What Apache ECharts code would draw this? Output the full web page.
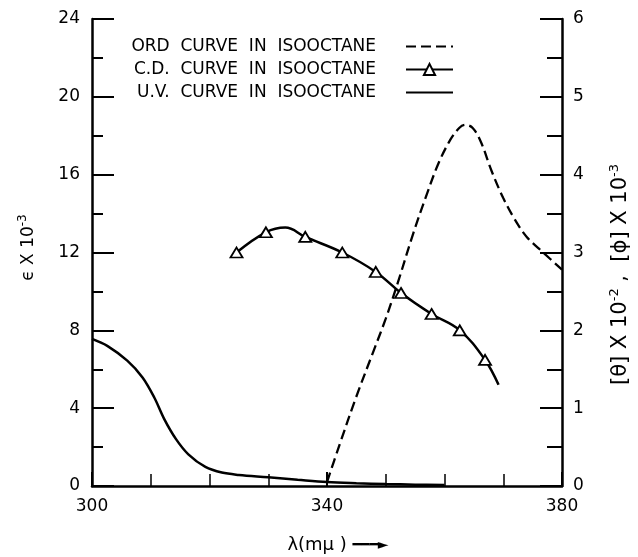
<!DOCTYPE html>
<html>
<head>
<meta charset="utf-8">
<script src="https://cdn.jsdelivr.net/npm/echarts@6/dist/echarts.min.js"></script>
<style>html,body{margin:0;padding:0;background:#fff;}#c{width:638px;height:557px;}</style>
</head>
<body>
<div id="c"></div>
<script>
// Wavelength axis (mμ)
const xMin = 300, xMax = 380, xLabelStep = 40;
const xTickLabels = [300, 340, 380];
// Left axis: ε × 10^-3
const leftTickLabels = [0, 4, 8, 12, 16, 20, 24];
// Right axis: [θ] × 10^-2 , [φ] × 10^-3
const rightTickLabels = [0, 1, 2, 3, 4, 5, 6];

const seriesNames = ['ORD  CURVE  IN  ISOOCTANE', 'C.D.  CURVE  IN  ISOOCTANE', 'U.V.  CURVE  IN  ISOOCTANE'];

// ORD curve (right axis)
const ordX = [340, 342, 345, 348, 350, 352, 354.7, 357, 359, 361, 362.5, 363.5, 364.8, 366.2, 368, 370, 372, 374, 376.8, 380];
const ordY = [0.05, 0.5, 1.15, 1.75, 2.15, 2.6, 3.25, 3.75, 4.15, 4.45, 4.6, 4.64, 4.6, 4.42, 4.05, 3.7, 3.42, 3.2, 3.0, 2.78];

// C.D. curve (right axis); cdMarker = 1 where a triangle is drawn
const cdX = [324.6, 329.6, 332.9, 336.3, 342.6, 348.3, 352.6, 357.8, 362.6, 366.9, 369.2];
const cdY = [3.0, 3.26, 3.32, 3.2, 3.0, 2.75, 2.48, 2.21, 2.0, 1.62, 1.3];
const cdMarker = [1, 1, 0, 1, 1, 1, 1, 1, 1, 1, 0];

// U.V. curve (left axis)
const uvX = [300, 302.6, 306, 308.6, 310.6, 312.3, 314.3, 316.4, 319.3, 322.1, 325, 330, 335, 340, 345, 350, 355, 360];
const uvY = [7.56, 7.2, 6.44, 5.58, 4.55, 3.44, 2.41, 1.63, 0.98, 0.69, 0.57, 0.45, 0.32, 0.2, 0.14, 0.1, 0.07, 0.05];

const FONT = 'DejaVu Sans';
const zip = (xs, ys) => xs.map((x, i) => [x, ys[i]]);

const richName = {
  m: {fontFamily: FONT, fontSize: 17, color: '#000', lineHeight: 20, verticalAlign: 'bottom'},
  s: {fontFamily: FONT, fontSize: 12, color: '#000', lineHeight: 12, verticalAlign: 'top'},
  a: {fontFamily: FONT, fontSize: 14, color: '#000', lineHeight: 20, verticalAlign: 'middle'}
};

const chart = echarts.init(document.getElementById('c'), null, {renderer: 'canvas'});
const axisCommon = {
  axisLine: {show: true, onZero: false, lineStyle: {color: '#000', width: 2.5}},
  splitLine: {show: false},
};
chart.setOption({
  backgroundColor: '#fff',
  animation: false,
  grid: {left: 92, right: 76, top: 19, bottom: 71, containLabel: false, outerBoundsMode: 'none'},
  legend: {
    orient: 'vertical',
    right: 179, top: 33,
    align: 'right',
    itemWidth: 47, itemHeight: 14, itemGap: 6,
    data: [
      {name: seriesNames[0], itemStyle: {opacity: 0}},
      {name: seriesNames[1]},
      {name: seriesNames[2], itemStyle: {opacity: 0}}
    ],
    textStyle: {fontFamily: FONT, fontSize: 17, color: '#000', lineHeight: 14, padding: [0, 25, 0, 0]},
    inactiveColor: '#000'
  },
  xAxis: Object.assign({}, axisCommon, {
    type: 'value', min: xMin, max: xMax, interval: xLabelStep,
    name: '{m|λ(mμ )} {a|━━━►}', nameLocation: 'middle', nameGap: 49,
    nameTextStyle: {fontFamily: FONT, fontSize: 18, color: '#000', lineHeight: 20, padding: [0, 0, 0, 22],
      rich: Object.assign({}, richName, {m: Object.assign({}, richName.m, {fontSize: 18, verticalAlign: 'middle'})})},
    axisTick: {show: true, inside: true, length: 14, lineStyle: {color: '#000', width: 2}},
    minorTick: {show: true, splitNumber: 4, length: 12, lineStyle: {color: '#000', width: 1.5}},
    axisLabel: {fontFamily: FONT, fontSize: 17, color: '#000', margin: 12,
      formatter: v => xTickLabels.includes(v) ? String(v) : ''}
  }),
  yAxis: [
    Object.assign({}, axisCommon, {
      type: 'value', position: 'left', min: 0, max: 24, interval: 4,
      name: '{m|ϵ X 10}{s|-3}', nameLocation: 'middle', nameGap: 55, nameRotate: 90,
      nameTextStyle: {fontFamily: FONT, fontSize: 17, color: '#000', lineHeight: 26, padding: [0, 0, 0, 10], rich: richName},
      axisTick: {show: true, inside: true, length: 22, lineStyle: {color: '#000', width: 2}},
      minorTick: {show: true, splitNumber: 2, length: 11, lineStyle: {color: '#000', width: 2}},
      axisLabel: {fontFamily: FONT, fontSize: 17, color: '#000', margin: 12,
        formatter: v => leftTickLabels.includes(v) ? String(v) : ''}
    }),
    Object.assign({}, axisCommon, {
      type: 'value', position: 'right', min: 0, max: 6, interval: 1,
      name: '{m|[θ] X 10}{s|-2}{m| ,  [ϕ] X 10}{s|-3}', nameLocation: 'middle', nameGap: 46, nameRotate: 90,
      nameTextStyle: {fontFamily: FONT, fontSize: 21, color: '#000', lineHeight: 26, padding: [0, 44, 0, 0],
        rich: Object.assign({}, richName, {
          m: Object.assign({}, richName.m, {fontSize: 21, lineHeight: 23}),
          s: Object.assign({}, richName.s, {fontSize: 13, lineHeight: 13})
        })},
      axisTick: {show: true, inside: true, length: 22, lineStyle: {color: '#000', width: 2}},
      minorTick: {show: true, splitNumber: 2, length: 15, lineStyle: {color: '#000', width: 2}},
      axisLabel: {fontFamily: FONT, fontSize: 17, color: '#000', margin: 11,
        formatter: v => rightTickLabels.includes(v) ? String(v) : ''}
    })
  ],
  series: [
    {
      name: seriesNames[0], type: 'line', yAxisIndex: 1, smooth: 0.35,
      symbol: 'none', data: zip(ordX, ordY),
      lineStyle: {color: '#000', width: 2.3, type: [10, 5]},
      itemStyle: {color: '#000'}
    },
    {
      name: seriesNames[1], type: 'line', yAxisIndex: 1, smooth: 0.4,
      symbol: 'triangle', symbolSize: [12, 10],
      data: cdX.map((x, i) => cdMarker[i] ? {value: [x, cdY[i]]} : {value: [x, cdY[i]], symbol: 'none'}),
      lineStyle: {color: '#000', width: 2.5},
      itemStyle: {color: '#fff', borderColor: '#000', borderWidth: 1.8}
    },
    {
      name: seriesNames[2], type: 'line', yAxisIndex: 0, smooth: 0.35,
      symbol: 'none', data: zip(uvX, uvY),
      lineStyle: {color: '#000', width: 2.5},
      itemStyle: {color: '#000'}
    }
  ]
});
</script>
</body>
</html>
